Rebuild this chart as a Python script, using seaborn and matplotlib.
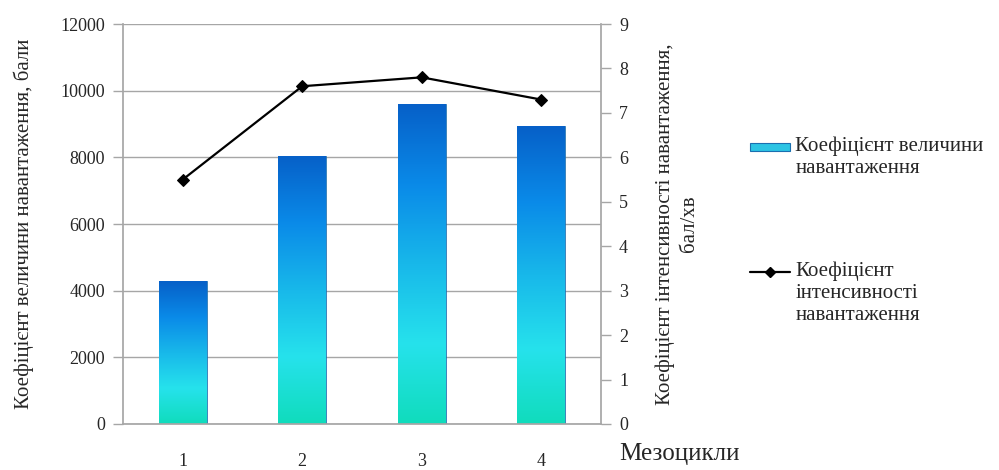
import matplotlib
matplotlib.use("Agg")
import matplotlib.pyplot as plt
import matplotlib.colors as mcolors
import seaborn as sns
import numpy as np
import pandas as pd
from matplotlib.patches import Rectangle
from matplotlib.lines import Line2D

# Dati
mezocykly = ['1', '2', '3', '4']
velychyna = [4280, 8050, 9590, 8940]          # asse sinistro, бали
intensyvnist = [5.5, 7.6, 7.8, 7.3]           # asse destro, бал/хв

sns.set_theme(style="white")
plt.rcParams['font.family'] = ['Liberation Serif', 'DejaVu Serif']

GRIGIO = '#a6a6a6'
GRADIENTE = mcolors.LinearSegmentedColormap.from_list(
    'barre', ['#10dcbc', '#26e2ec', '#18b8ea', '#0a8ae8', '#0660c8'])

df = pd.DataFrame({'mezo': mezocykly, 'vel': velychyna, 'int': intensyvnist})

fig = plt.figure(figsize=(9.99, 4.70), dpi=100)
ax = fig.add_axes([0.1231, 0.0979, 0.4785, 0.851])

sns.barplot(data=df, x='mezo', y='vel', ax=ax, width=0.4, color='#1aa0e8')

# Riempimento sfumato per ogni barra
for p in ax.patches:
    x0, y0 = p.get_x(), p.get_y()
    w, h = p.get_width(), p.get_height()
    p.set_facecolor('none')
    p.set_edgecolor('#1b6fb0')
    p.set_linewidth(0.6)
    grad = np.linspace(0, 1, 256).reshape(-1, 1)
    im = ax.imshow(grad, cmap=GRADIENTE, origin='lower', aspect='auto',
                   extent=[x0, x0 + w, y0, y0 + h], zorder=2)
    im.set_clip_path(p)

ax.set_xlim(-0.5, 3.5)
ax.set_ylim(0, 12000)
ax.set_yticks(range(0, 12001, 2000))
ax.yaxis.grid(True, color=GRIGIO, linewidth=1)
ax.set_axisbelow(True)
ax.set_xticks([0, 1, 2, 3])
ax.set_xticks([-0.5, 0.5, 1.5, 2.5, 3.5], minor=True)
ax.tick_params(axis='x', which='major', length=0, pad=21, labelsize=13)
ax.tick_params(axis='x', which='minor', length=6, color=GRIGIO, width=1, direction='out')
ax.tick_params(axis='y', length=7, color=GRIGIO, width=1, labelsize=13, pad=6, left=True)
for lato in ['left', 'bottom']:
    ax.spines[lato].set_color(GRIGIO)
ax.spines['top'].set_visible(False)
ax.spines['right'].set_visible(False)
ax.set_xlabel('')
ax.set_ylabel('Коефіцієнт величини навантаження, бали', fontsize=15, labelpad=19)

ax2 = ax.twinx()
sns.lineplot(x=[0, 1, 2, 3], y=intensyvnist, ax=ax2, color='black',
             linewidth=1.6, marker='D', markersize=6.5, markeredgecolor='black')
ax2.set_ylim(0, 9)
ax2.set_yticks(range(0, 10))
ax2.tick_params(axis='y', length=7, color=GRIGIO, width=1, labelsize=13, pad=6, right=True)
ax2.spines['right'].set_color(GRIGIO)
for lato in ['left', 'top', 'bottom']:
    ax2.spines[lato].set_visible(False)
ax2.set_ylabel('Коефіцієнт інтенсивності навантаження,\nбал/хв', fontsize=15,
               labelpad=20, linespacing=1.3)

fig.text(0.62, 0.035, 'Мезоцикли', fontsize=18, ha='left', va='center')

# Legenda a destra, disegnata a mano: il simbolo sta sulla prima riga del testo
leg_x, leg_testo = 0.751, 0.796
y1, y2 = 1 - 147 / 470, 1 - 272 / 470
fig.patches.append(Rectangle((leg_x, y1 - 0.009), leg_testo - leg_x - 0.005, 0.018,
                             transform=fig.transFigure, facecolor='#2cc4e4',
                             edgecolor='#1b6fb0', linewidth=0.8))
fig.lines.append(Line2D([leg_x, leg_testo - 0.005], [y2, y2], transform=fig.transFigure,
                        color='black', linewidth=1.6))
fig.lines.append(Line2D([(leg_x + leg_testo - 0.005) / 2], [y2], transform=fig.transFigure,
                        color='black', marker='D', markersize=5.5))
etichette = ['Коефіцієнт величини\nнавантаження',
             'Коефіцієнт\nінтенсивності\nнавантаження']
for y, testo in zip([y1, y2], etichette):
    fig.text(leg_testo, y + 0.022, testo, fontsize=15, ha='left', va='top',
             linespacing=1.2)

fig.savefig('out.png', dpi=100)
